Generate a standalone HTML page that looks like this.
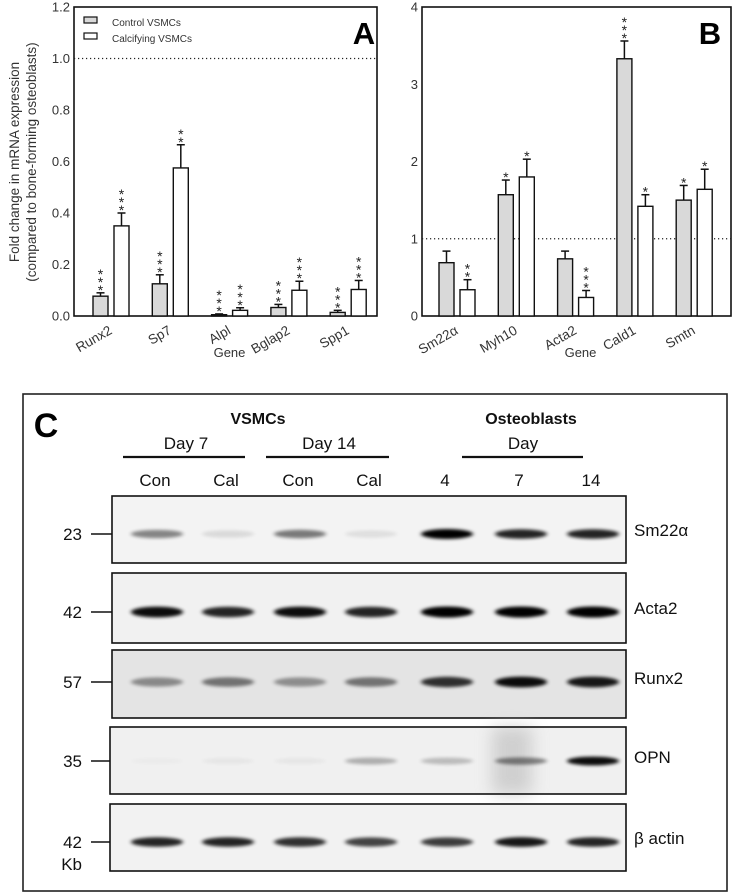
<!DOCTYPE html>
<html><head><meta charset="utf-8">
<style>
html,body{margin:0;padding:0;background:#fff;}
svg{display:block;font-family:"Liberation Sans",Arial,sans-serif;}
</style></head>
<body>
<svg id="fig" width="733" height="894" viewBox="0 0 733 894" xmlns="http://www.w3.org/2000/svg">
<defs>
<filter id="blur" x="-50%" y="-200%" width="200%" height="500%"><feGaussianBlur stdDeviation="2.2 1.6"/></filter>
<filter id="blur2" x="-50%" y="-50%" width="200%" height="200%"><feGaussianBlur stdDeviation="8"/></filter>
</defs>
<g id="panelA"></g>
<g id="panelB"></g>
<g id="panelC"></g>
</svg>
<script>
// Panel A data
const genesA = ["Runx2","Sp7","Alpl","Bglap2","Spp1"];
const ctrlA = [0.077,0.125,0.005,0.033,0.014];
const ctrlErrA = [0.013,0.035,0.003,0.012,0.008];
const calA = [0.35,0.575,0.022,0.1,0.103];
const calErrA = [0.05,0.09,0.01,0.035,0.035];
const ctrlSigA = ["***","***","***","***","***"];
const calSigA = ["***","**","***","***","***"];
const ticksA = ["0.0","0.2","0.4","0.6","0.8","1.0","1.2"];
// Panel B data
const genesB = ["Sm22\u03b1","Myh10","Acta2","Cald1","Smtn"];
const ctrlB = [0.69,1.57,0.74,3.33,1.5];
const ctrlErrB = [0.15,0.19,0.1,0.23,0.19];
const calB = [0.34,1.8,0.24,1.42,1.64];
const calErrB = [0.13,0.23,0.09,0.15,0.26];
const ctrlSigB = ["","*","","***","*"];
const calSigB = ["**","*","***","*","*"];
const ticksB = ["0","1","2","3","4"];
// Panel C data
const laneLabels = ["Con","Cal","Con","Cal","4","7","14"];
const blotNames = ["Sm22\u03b1","Acta2","Runx2","OPN","\u03b2 actin"];
const blotMW = ["23","42","57","35","42"];
const bandSm22 = [0.45,0.1,0.5,0.08,1,0.85,0.85];
const bandActa2 = [0.95,0.85,0.95,0.85,1,1,1];
const bandRunx2 = [0.4,0.5,0.38,0.5,0.8,0.95,0.9];
const bandOPN = [0.02,0.04,0.04,0.28,0.22,0.45,0.95];
const bandActin = [0.85,0.85,0.8,0.72,0.75,0.9,0.85];

const NS="http://www.w3.org/2000/svg";
function mk(parent,tag,attrs,text){const e=document.createElementNS(NS,tag);for(const k in attrs)e.setAttribute(k,attrs[k]);if(text!==undefined)e.textContent=text;parent.appendChild(e);return e;}

function drawChart(g,cfg){
  const {x0,x1,y0,y1,ymax,genes,ctrl,ctrlErr,cal,calErr,ctrlSig,calSig,ticks,firstBar,spacing,bw,gap}=cfg;
  const ys=v=>y1-(v/ymax)*(y1-y0);
  const frame=mk(g,"rect",{x:x0,y:y0,width:x1-x0,height:y1-y0,fill:"none",stroke:"#111","stroke-width":1.6});
  
  
  const dl=mk(g,"line",{x1:x0,x2:x1,y1:ys(1),y2:ys(1),stroke:"#222","stroke-width":1.2,"stroke-dasharray":"1.2 2.8"});
  
  
  ticks.forEach(t=>{
    const tl=mk(g,"text",{x:x0-4,y:ys(parseFloat(t))+4.5,"text-anchor":"end","font-size":13,fill:"#333"},t);
    
    
  });
  genes.forEach((gn,i)=>{
    const gx=firstBar+i*spacing;
    [[ctrl,ctrlErr,ctrlSig,"#d9d9d9",gx],[cal,calErr,calSig,"#fff",gx+bw+gap]].forEach(([vals,errs,sigs,fill,bx],k)=>{
      const v=vals[i],e=errs[i];
      const top=ys(v),etop=ys(v+e);
      const el=mk(g,"line",{x1:bx+bw/2,x2:bx+bw/2,y1:top,y2:etop,stroke:"#111","stroke-width":1.5});
      
      
      const cap=mk(g,"line",{x1:bx+bw/2-4,x2:bx+bw/2+4,y1:etop,y2:etop,stroke:"#111","stroke-width":1.5});
      
      
      const r=mk(g,"rect",{x:bx,y:top,width:bw,height:Math.max(y1-top,0.8),fill:fill,stroke:"#111","stroke-width":1.4});
      
      
      const s=sigs[i];
      for(let j=0;j<s.length;j++){
        const st=mk(g,"text",{x:bx+bw/2,y:etop+2-j*8,"text-anchor":"middle","font-size":14,fill:"#222"},"*");
        
        
      }
    });
    const cx=gx+bw+gap/2;
    const lb=mk(g,"text",{x:cx+2,y:y1+17,"text-anchor":"end","font-size":13.5,fill:"#333",transform:`rotate(-30 ${cx+2} ${y1+17})`},gn);
    
    
  });
  const xt=mk(g,"text",{x:(x0+x1)/2+4,y:y1+41,"text-anchor":"middle","font-size":13,fill:"#333"},"Gene");
  
  
}

const gA=document.getElementById("panelA");
drawChart(gA,{x0:74,x1:377,y0:7,y1:316,ymax:1.2,genes:genesA,ctrl:ctrlA,ctrlErr:ctrlErrA,cal:calA,calErr:calErrA,ctrlSig:ctrlSigA,calSig:calSigA,ticks:ticksA,firstBar:93,spacing:59.3,bw:15,gap:6});
const gB=document.getElementById("panelB");
drawChart(gB,{x0:422,x1:731,y0:7,y1:316,ymax:4,genes:genesB,ctrl:ctrlB,ctrlErr:ctrlErrB,cal:calB,calErr:calErrB,ctrlSig:ctrlSigB,calSig:calSigB,ticks:ticksB,firstBar:439,spacing:59.3,bw:15,gap:6});

// Panel A extras
let t=mk(gA,"text",{x:0,y:0,"text-anchor":"middle","font-size":13.5,fill:"#333",transform:"translate(19,162) rotate(-90)"},"Fold change in mRNA expression");


t=mk(gA,"text",{x:0,y:0,"text-anchor":"middle","font-size":13.5,fill:"#333",transform:"translate(36,162) rotate(-90)"},"(compared to bone-forming osteoblasts)");


t=mk(gA,"rect",{x:84,y:17,width:13,height:6,fill:"#d9d9d9",stroke:"#111","stroke-width":1.2});


t=mk(gA,"text",{x:112,y:26,"font-size":10,fill:"#333"},"Control VSMCs");


t=mk(gA,"rect",{x:84,y:33,width:13,height:6,fill:"#fff",stroke:"#111","stroke-width":1.2});


t=mk(gA,"text",{x:112,y:42,"font-size":10,fill:"#333"},"Calcifying VSMCs");


t=mk(gA,"text",{x:364,y:44,"text-anchor":"middle","font-size":31,"font-weight":"bold",fill:"#000"},"A");


t=mk(gB,"text",{x:710,y:44,"text-anchor":"middle","font-size":31,"font-weight":"bold",fill:"#000"},"B");



// Panel C
const gC=document.getElementById("panelC");
t=mk(gC,"rect",{x:23,y:394,width:704,height:497,fill:"none",stroke:"#222","stroke-width":1.6});


t=mk(gC,"text",{x:46,y:437,"text-anchor":"middle","font-size":34,"font-weight":"bold",fill:"#000"},"C");


const hdr=[["VSMCs",258,424,true],["Osteoblasts",531,424,true],["Day 7",186,449,false],["Day 14",329,449,false],["Day",523,449,false]];
hdr.forEach(h=>{
  const e=mk(gC,"text",{x:h[1],y:h[2],"text-anchor":"middle","font-size":h[3]?16:17,"font-weight":h[3]?"bold":"normal",fill:"#111"},h[0]);
  
  
});
[[123,245],[266,389],[462,583]].forEach(l=>{
  const e=mk(gC,"line",{x1:l[0],x2:l[1],y1:457,y2:457,stroke:"#111","stroke-width":2.2});
  
  
});
const laneX=[155,226,298,369,445,519,591];
laneLabels.forEach((lb,i)=>{
  const e=mk(gC,"text",{x:laneX[i],y:486,"text-anchor":"middle","font-size":17,fill:"#111"},lb);
  
  
});
const blots=[
 {y:496,h:67,bg:"#f3f3f3",band:bandSm22,by:534,bh:7,name:blotNames[0],mw:blotMW[0],x:112},
 {y:573,h:70,bg:"#f1f1f1",band:bandActa2,by:612,bh:8,name:blotNames[1],mw:blotMW[1],x:112},
 {y:650,h:68,bg:"#e4e4e4",band:bandRunx2,by:682,bh:8,name:blotNames[2],mw:blotMW[2],x:112},
 {y:727,h:67,bg:"#f0f0f0",band:bandOPN,by:761,bh:6,name:blotNames[3],mw:blotMW[3],x:110},
 {y:804,h:67,bg:"#f2f2f2",band:bandActin,by:842,bh:7,name:blotNames[4],mw:blotMW[4],x:110}
];
blots.forEach((b,bi)=>{
  const w=626-b.x;
  const r=mk(gC,"rect",{x:b.x,y:b.y,width:w,height:b.h,fill:b.bg});
  
  
  if(bi===3){
    const s=mk(gC,"rect",{x:492,y:b.y,width:40,height:b.h,fill:"#c8c8c8",filter:"url(#blur2)",opacity:0.8});
    
    
  }
  b.band.forEach((v,i)=>{
    const e=mk(gC,"ellipse",{cx:laneX[i]+2,cy:b.by,rx:26,ry:b.bh/2+v*1.5,fill:"#000",opacity:v,filter:"url(#blur)"});
    
    
  });
  const fr=mk(gC,"rect",{x:b.x,y:b.y,width:w,height:b.h,fill:"none",stroke:"#111","stroke-width":1.6});
  
  
  const nm=mk(gC,"text",{x:634,y:b.by+2,"font-size":17,fill:"#111"},b.name);
  
  
  const mw=mk(gC,"text",{x:82,y:b.by+6,"text-anchor":"end","font-size":17,fill:"#111"},b.mw);
  
  
  const tk=mk(gC,"line",{x1:91,x2:b.x,y1:b.by,y2:b.by,stroke:"#111","stroke-width":1.6});
  
  
});
t=mk(gC,"text",{x:82,y:870,"text-anchor":"end","font-size":17,fill:"#111"},"Kb");


</script>
</body></html>
